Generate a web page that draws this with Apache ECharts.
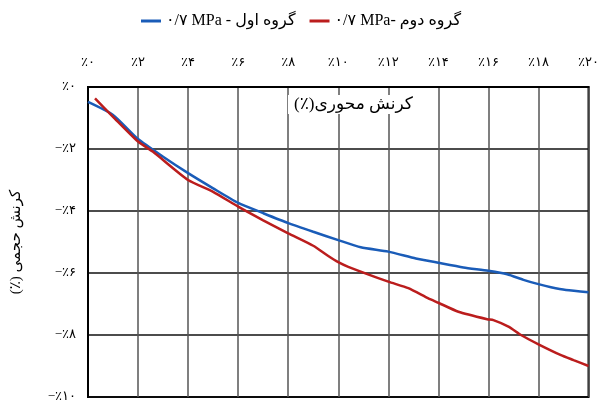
<!DOCTYPE html>
<html style="height: 100%">
<head>
    <meta charset="utf-8">
</head>
<body style="height: 100%; margin: 0; background: #fff">
    <div id="container" style="width: 602px; height: 405px"></div>
    <script type="text/javascript" src="https://cdn.jsdelivr.net/npm/echarts@6/dist/echarts.min.js"></script>
    <script type="text/javascript">
        // axial strain (x) vs volumetric strain (y), both in percent
        var xTickLabels = ['٪۰', '٪۲', '٪۴', '٪۶', '٪۸', '٪۱۰', '٪۱۲', '٪۱۴', '٪۱۶', '٪۱۸', '٪۲۰'];
        var yTickLabels = ['٪۰', '−٪۲', '−٪۴', '−٪۶', '−٪۸', '−٪۱۰'];

        var seriesNames = ['۰/۷ MPa - گروه اول', '۰/۷ MPa- گروه دوم'];
        var xAxisTitle = '(٪)کرنش محوری';
        var yAxisTitle = '(٪) کرنش حجمی';

        var xGroup1 = [0, 1, 2, 3, 4, 5, 6, 7, 8, 9, 10, 10.9, 12, 13.1, 14, 15, 16, 16.75, 17.4, 18, 18.5, 19.1, 20];
        var yGroup1 = [-0.48, -0.9, -1.68, -2.25, -2.78, -3.27, -3.74, -4.07, -4.39, -4.67, -4.94, -5.17, -5.31, -5.53, -5.67, -5.82, -5.93, -6.04, -6.22, -6.36, -6.46, -6.55, -6.62];

        var xGroup2 = [0.28, 1, 2, 2.6, 4, 5, 6, 7, 8, 9, 9.6, 10, 10.4, 12, 12.8, 13.6, 14, 14.8, 15.95, 16.2, 16.8, 17.3, 18, 18.9, 19.4, 20];
        var yGroup2 = [-0.37, -0.96, -1.76, -2.09, -3.0, -3.38, -3.86, -4.3, -4.72, -5.12, -5.45, -5.65, -5.8, -6.28, -6.49, -6.82, -6.96, -7.25, -7.49, -7.52, -7.73, -8.0, -8.3, -8.65, -8.81, -9.0];

        function pairs(xs, ys) {
            var out = [];
            for (var i = 0; i < xs.length; i++) {
                out.push([xs[i], ys[i]]);
            }
            return out;
        }

        var fontFam = "'Liberation Serif', 'DejaVu Sans', serif";

        var dom = document.getElementById("container");
        var myChart = echarts.init(dom);
        var option = {
            animation: false,
            textStyle: { fontFamily: fontFam },
            legend: {
                data: seriesNames,
                top: 8,
                left: 'center',
                icon: 'rect',
                itemWidth: 20,
                itemHeight: 3,
                itemGap: 14,
                textStyle: { fontSize: 16, color: '#000', fontFamily: fontFam }
            },
            grid: {
                left: 88,
                right: 10,
                top: 87,
                bottom: 8,
                show: true,
                borderColor: '#000',
                borderWidth: 2
            },
            // axis title sits inside the plot, over the grid lines
            graphic: [{
                type: 'text',
                left: 288,
                top: 95,
                z: 100,
                style: {
                    text: xAxisTitle,
                    fontSize: 17,
                    fontFamily: fontFam,
                    fill: '#000',
                    backgroundColor: '#fff',
                    padding: [1, 6, 1, 6]
                }
            }],
            xAxis: {
                type: 'value',
                position: 'top',
                min: 0,
                max: 20,
                interval: 2,
                axisLine: { show: true, lineStyle: { color: '#000', width: 2 } },
                axisTick: { show: false },
                axisLabel: {
                    margin: 18,
                    fontSize: 13,
                    color: '#000',
                    formatter: function (v) { return xTickLabels[Math.round(v / 2)]; }
                },
                splitLine: { show: true, lineStyle: { color: '#555', width: 1.5 } }
            },
            yAxis: {
                type: 'value',
                min: -10,
                max: 0,
                interval: 2,
                name: yAxisTitle,
                nameLocation: 'middle',
                nameGap: 64,
                nameTextStyle: { fontSize: 15, color: '#000', fontFamily: fontFam },
                axisLine: { show: true, lineStyle: { color: '#000', width: 2 } },
                axisTick: { show: false },
                axisLabel: {
                    margin: 12,
                    fontSize: 13,
                    color: '#000',
                    formatter: function (v) { return yTickLabels[Math.round(-v / 2)]; }
                },
                splitLine: { show: true, lineStyle: { color: '#111', width: 1.5 } }
            },
            series: [{
                name: seriesNames[0],
                type: 'line',
                showSymbol: false,
                smooth: 0.2,
                color: '#1a5cb8',
                lineStyle: { width: 2.5 },
                data: pairs(xGroup1, yGroup1)
            },
            {
                name: seriesNames[1],
                type: 'line',
                showSymbol: false,
                smooth: 0.2,
                color: '#bb1d1d',
                lineStyle: { width: 2.5 },
                data: pairs(xGroup2, yGroup2)
            }]
        };
        myChart.setOption(option, true);
    </script>
</body>
</html>
